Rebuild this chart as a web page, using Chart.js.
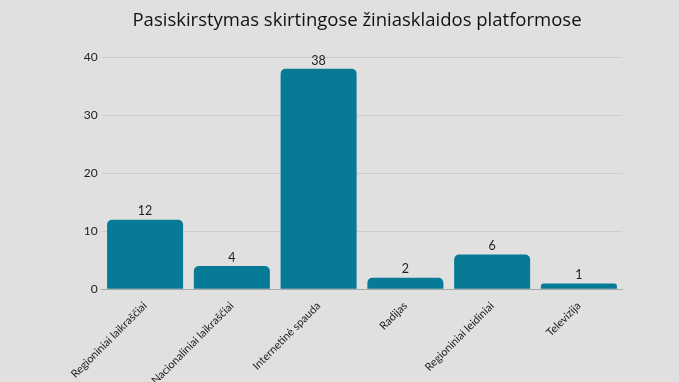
<!DOCTYPE html>
<html><head><meta charset="utf-8">
<script src="https://cdn.jsdelivr.net/npm/chart.js@4"></script>
<style>html,body{margin:0;padding:0;background:#e0e0e0;}#wrap{width:679px;height:382px;}</style>
</head><body><div id="wrap"><canvas id="c" width="679" height="382"></canvas></div>
<script>
const categories = ["Regioniniai laikraščiai","Nacionaliniai laikraščiai","Internetinė spauda","Radijas","Regioniniai leidiniai","Televizija"];
const values = [12,4,38,2,6,1];
const yTicks = [0,10,20,30,40];
const titleText = "Pasiskirstymas skirtingose žiniasklaidos platformose";

const labelPlugin = {
  id:'valLabels',
  afterDatasetsDraw(chart){
    const ctx = chart.ctx;
    const meta = chart.getDatasetMeta(0);
    ctx.save();
    ctx.font = '12.5px Lato';
    ctx.fillStyle = '#222';
    ctx.textAlign = 'center';
    ctx.textBaseline = 'bottom';
    meta.data.forEach((el,i)=>{ ctx.fillText(String(values[i]), el.x, el.y - 2); });
    ctx.restore();
  }
};
const bgPlugin = {
  id:'bg',
  beforeDraw(chart){const c=chart.ctx;c.save();c.fillStyle='#e0e0e0';c.fillRect(0,0,chart.width,chart.height);c.restore();}
};

new Chart(document.getElementById('c'),{
  type:'bar',
  data:{labels:categories,datasets:[{data:values,backgroundColor:'#077b95',borderRadius:5,borderSkipped:'bottom',barPercentage:0.876,categoryPercentage:1}]},
  options:{
    responsive:false,animation:false,
    layout:{padding:{left:35,right:0,top:0,bottom:0}},
    plugins:{
      legend:{display:false},tooltip:{enabled:false},
      title:{display:true,text:titleText,color:'#111',font:{family:'Open Sans',size:18.5,weight:'normal'},padding:{top:10,bottom:25}}
    },
    scales:{
      x:{grid:{display:false},border:{color:'#a8a8a8'},
         ticks:{color:'#222',font:{family:'Lato',size:11},maxRotation:45,minRotation:45,autoSkip:false,padding:2},
         afterFit(s){s.height=92.7;}},
      y:{min:0,max:40,afterBuildTicks(s){s.ticks=yTicks.map(v=>({value:v}));},
         grid:{color:'#cdcdcd',drawTicks:false},border:{display:false},
         ticks:{color:'#222',font:{family:'Lato',size:12},padding:4},
         afterFit(s){s.width=66.7;}},
      y2:{position:'right',display:true,grid:{display:false},border:{display:false},ticks:{display:false},afterFit(s){s.width=56.7;}}
    }
  },
  plugins:[bgPlugin,labelPlugin]
});
</script></body></html>
